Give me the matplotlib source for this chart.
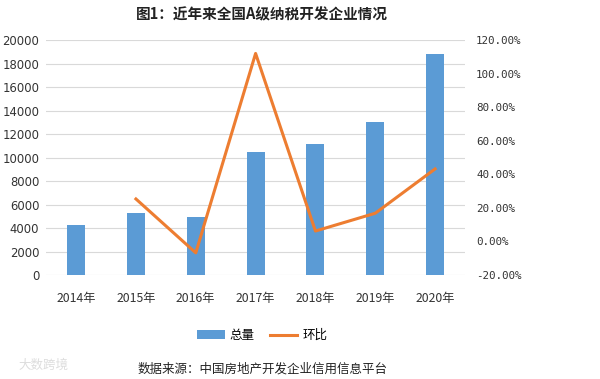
import matplotlib.pyplot as plt
from matplotlib.ticker import FuncFormatter

plt.rcParams['font.family'] = ['Noto Sans CJK SC', 'DejaVu Sans']

years = ['2014年', '2015年', '2016年', '2017年', '2018年', '2019年', '2020年']
total = [4250, 5300, 4960, 10490, 11150, 13050, 18800]
growth = [None, 0.253, -0.068, 1.12, 0.062, 0.168, 0.432]

fig = plt.figure(figsize=(6, 3.79), dpi=100)
ax = fig.add_axes([0.077, 0.2744, 0.698, 0.62])
ax2 = ax.twinx()

x = list(range(len(years)))
bars = ax.bar(x, total, width=0.3, color='#5B9BD5', label='总量', zorder=2)
gx = [i for i, g in zip(x, growth) if g is not None]
gy = [g for g in growth if g is not None]
line, = ax2.plot(gx, gy, color='#ED7D31', linewidth=2.2, label='环比', zorder=3)

ax.set_xlim(-0.5, 6.5)
ax.set_ylim(0, 20000)
ax.set_yticks(range(0, 20001, 2000))
ax2.set_ylim(-0.2, 1.2)
ax2.set_yticks([-0.2, 0, 0.2, 0.4, 0.6, 0.8, 1.0, 1.2])
ax2.yaxis.set_major_formatter(FuncFormatter(lambda v, p: f'{v*100:.2f}%'))

ax.set_xticks(x)
ax.set_xticklabels(years, fontsize=8.8, color='#333333')
ax.grid(axis='y', color='#D9D9D9', linewidth=0.8, zorder=0)
for a in (ax, ax2):
    for s in a.spines.values():
        s.set_visible(False)
    a.tick_params(length=0)
ax.tick_params(axis='y', pad=5)
for t in ax.get_yticklabels():
    t.set_family('DejaVu Sans')
    t.set_fontsize(8.4)
    t.set_color('#333333')
ax.tick_params(axis='x', pad=12)
for t in ax2.get_yticklabels():
    t.set_family('DejaVu Sans Mono')
    t.set_fontsize(7.8)
    t.set_color('#333333')
ax2.tick_params(axis='y', pad=8)

fig.text(0.437, 0.962, '图1：近年来全国A级纳税开发企业情况', ha='center', va='center',
         fontsize=10.5, fontweight='bold', color='#222222')
fig.legend(handles=[bars, line], labels=['总量', '环比'], loc='center',
           bbox_to_anchor=(0.437, 0.115), ncol=2, frameon=False, fontsize=9,
           handlelength=2.2, handletextpad=0.4, columnspacing=1.2)
fig.text(0.437, 0.027, '数据来源：中国房地产开发企业信用信息平台', ha='center', va='center',
         fontsize=9, color='#222222')
fig.text(0.03, 0.035, '大数跨境', ha='left', va='center', fontsize=9, color='#dddddd')

fig.savefig('out.png', dpi=100)
